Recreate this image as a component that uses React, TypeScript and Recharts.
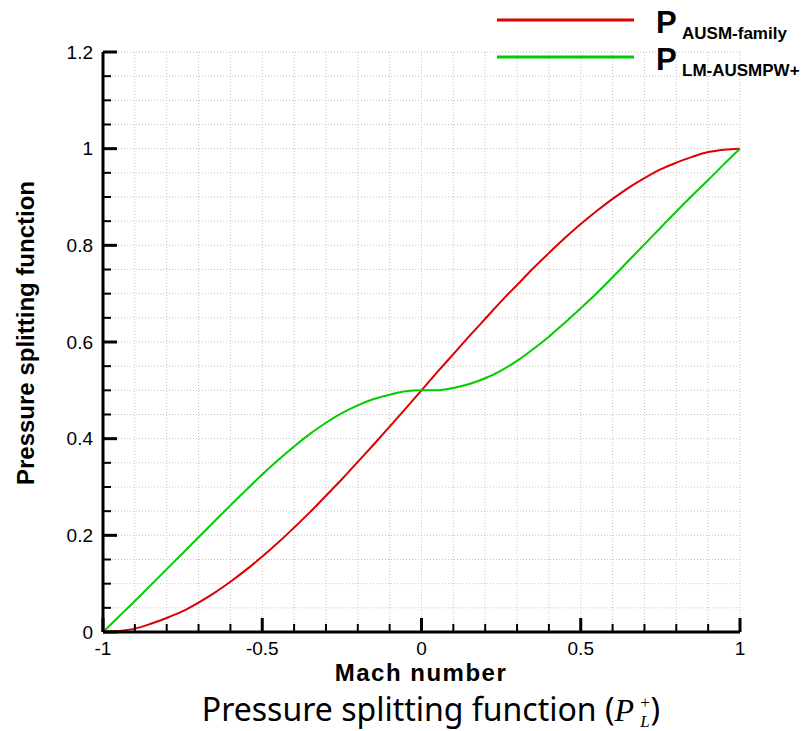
import React from 'react';
import { LineChart, Line, XAxis, YAxis, CartesianGrid, Legend } from 'recharts';

// Mach number samples
const mach = [
  -1, -0.95, -0.9, -0.85, -0.8, -0.75, -0.7, -0.65, -0.6, -0.55, -0.5,
  -0.45, -0.4, -0.35, -0.3, -0.25, -0.2, -0.15, -0.1, -0.05, 0,
  0.05, 0.1, 0.15, 0.2, 0.25, 0.3, 0.35, 0.4, 0.45, 0.5,
  0.55, 0.6, 0.65, 0.7, 0.75, 0.8, 0.85, 0.9, 0.95, 1,
];

// P+ of the AUSM family (red)
const pAusm = [
  0, 0.002, 0.007, 0.017, 0.029, 0.043, 0.061, 0.081, 0.104, 0.129, 0.156,
  0.185, 0.216, 0.248, 0.282, 0.316, 0.352, 0.388, 0.425, 0.462, 0.5,
  0.538, 0.575, 0.612, 0.648, 0.684, 0.718, 0.752, 0.784, 0.815, 0.844,
  0.871, 0.896, 0.919, 0.939, 0.957, 0.971, 0.983, 0.993, 0.998, 1,
];

// P+ of LM-AUSMPW+ (green)
const pLmAusmpw = [
  0, 0.032, 0.064, 0.097, 0.13, 0.163, 0.196, 0.229, 0.262, 0.294, 0.326,
  0.356, 0.384, 0.41, 0.433, 0.453, 0.469, 0.482, 0.491, 0.498, 0.5,
  0.5, 0.505, 0.513, 0.525, 0.541, 0.561, 0.585, 0.611, 0.64, 0.67,
  0.701, 0.734, 0.768, 0.802, 0.836, 0.87, 0.903, 0.935, 0.968, 1,
];

const xTicks = [
  -1, -0.9, -0.8, -0.7, -0.6, -0.5, -0.4, -0.3, -0.2, -0.1, 0,
  0.1, 0.2, 0.3, 0.4, 0.5, 0.6, 0.7, 0.8, 0.9, 1,
];
const yTicks = [
  0, 0.05, 0.1, 0.15, 0.2, 0.25, 0.3, 0.35, 0.4, 0.45, 0.5, 0.55, 0.6,
  0.65, 0.7, 0.75, 0.8, 0.85, 0.9, 0.95, 1, 1.05, 1.1, 1.15, 1.2,
];

const data = mach.map((m, i) => ({ m, ausm: pAusm[i], lm: pLmAusmpw[i] }));

const FONT = '"Liberation Sans", Arial, sans-serif';
const isMultiple = (v: number, step: number) => Math.abs(v / step - Math.round(v / step)) < 1e-6;

const XTick = ({ x, y, payload }: any) => {
  const major = isMultiple(payload.value, 0.5);
  return (
    <g>
      <line x1={x} x2={x} y1={y} y2={y - (major ? 14 : 8)} stroke="#000" strokeWidth={major ? 3 : 2} />
      {major && (
        <text x={x} y={y + 23} textAnchor="middle" fontSize={19} fontFamily={FONT} fill="#000">
          {String(payload.value)}
        </text>
      )}
    </g>
  );
};

const YTick = ({ x, y, payload }: any) => {
  const major = isMultiple(payload.value, 0.2);
  return (
    <g>
      <line x1={x} x2={x + (major ? 14 : 8)} y1={y} y2={y} stroke="#000" strokeWidth={major ? 3 : 2} />
      {major && (
        <text x={x - 10} y={y} dy="0.35em" textAnchor="end" fontSize={19} fontFamily={FONT} fill="#000">
          {String(payload.value)}
        </text>
      )}
    </g>
  );
};

const renderLegend = (props: any) => {
  const items = props.payload || [];
  return (
    <svg width={315} height={82} style={{ overflow: 'visible' }}>
      {items.map((it: any, i: number) => (
        <g key={it.value} transform={`translate(0, ${i * 37})`}>
          <line x1={7} x2={144} y1={20} y2={20} stroke={it.color} strokeWidth={3} />
          <text x={166} y={33} fontSize={31} fontWeight="bold" fontFamily={FONT} fill="#000">P</text>
          <text x={192} y={39} fontSize={17} fontWeight="bold" fontFamily={FONT} fill="#000">{it.value}</text>
        </g>
      ))}
    </svg>
  );
};

export default function App() {
  return (
    <div style={{ position: 'absolute', left: 0, top: 0, width: 805, height: 731, background: '#fff' }}>
      <LineChart width={805} height={690} data={data} margin={{ top: 52, right: 65, bottom: 3, left: 0 }}>
        <CartesianGrid stroke="#c4c4c4" strokeDasharray="1 2" />
        <XAxis
          dataKey="m"
          type="number"
          domain={[-1, 1]}
          ticks={xTicks}
          interval={0}
          height={55}
          tickSize={0}
          tickMargin={0}
          tickLine={false}
          tick={(p: any) => <XTick {...p} />}
          axisLine={{ stroke: '#000', strokeWidth: 3 }}
          label={{
            content: () => (
              <text
                x={421}
                y={681}
                textAnchor="middle"
                fontSize={24}
                letterSpacing={1.5}
                fontWeight="bold"
                fontFamily={FONT}
                fill="#000"
              >
                Mach number
              </text>
            ),
          }}
        />
        <YAxis
          type="number"
          domain={[0, 1.2]}
          ticks={yTicks}
          interval={0}
          width={103}
          tickSize={0}
          tickMargin={0}
          tickLine={false}
          tick={(p: any) => <YTick {...p} />}
          axisLine={{ stroke: '#000', strokeWidth: 3 }}
          label={{
            content: () => (
              <text
                x={26}
                y={333}
                dy="0.35em"
                transform="rotate(-90 26 333)"
                textAnchor="middle"
                fontSize={24}
                fontWeight="bold"
                fontFamily={FONT}
                fill="#000"
              >
                Pressure splitting function
              </text>
            ),
          }}
        />
        <Legend
          layout="vertical"
          align="center"
          verticalAlign="middle"
          content={renderLegend}
          wrapperStyle={{ left: 490, top: 0, width: 315, height: 82 }}
        />
        <Line
          dataKey="ausm"
          name="AUSM-family"
          type="monotone"
          stroke="#dd0000"
          strokeWidth={2}
          dot={false}
          isAnimationActive={false}
        />
        <Line
          dataKey="lm"
          name="LM-AUSMPW+"
          type="monotone"
          stroke="#00cc00"
          strokeWidth={2}
          dot={false}
          isAnimationActive={false}
        />
      </LineChart>
      <div
        style={{
          position: 'absolute',
          top: 693,
          left: 0,
          width: 862,
          textAlign: 'center',
          fontFamily: '"Noto Sans", sans-serif',
          fontSize: 32,
          lineHeight: '32px',
          color: '#000',
          whiteSpace: 'nowrap',
        }}
      >
        Pressure splitting function (
        <span style={{ fontFamily: '"Liberation Serif", serif', fontStyle: 'italic', marginRight: 5 }}>P</span>
        <span
          style={{
            display: 'inline-flex',
            flexDirection: 'column',
            verticalAlign: 'middle',
            fontFamily: '"Liberation Serif", serif',
            fontStyle: 'italic',
            fontSize: 17,
            lineHeight: '19px',
          }}
        >
          <span>+</span>
          <span>L</span>
        </span>
        )
      </div>
    </div>
  );
}
